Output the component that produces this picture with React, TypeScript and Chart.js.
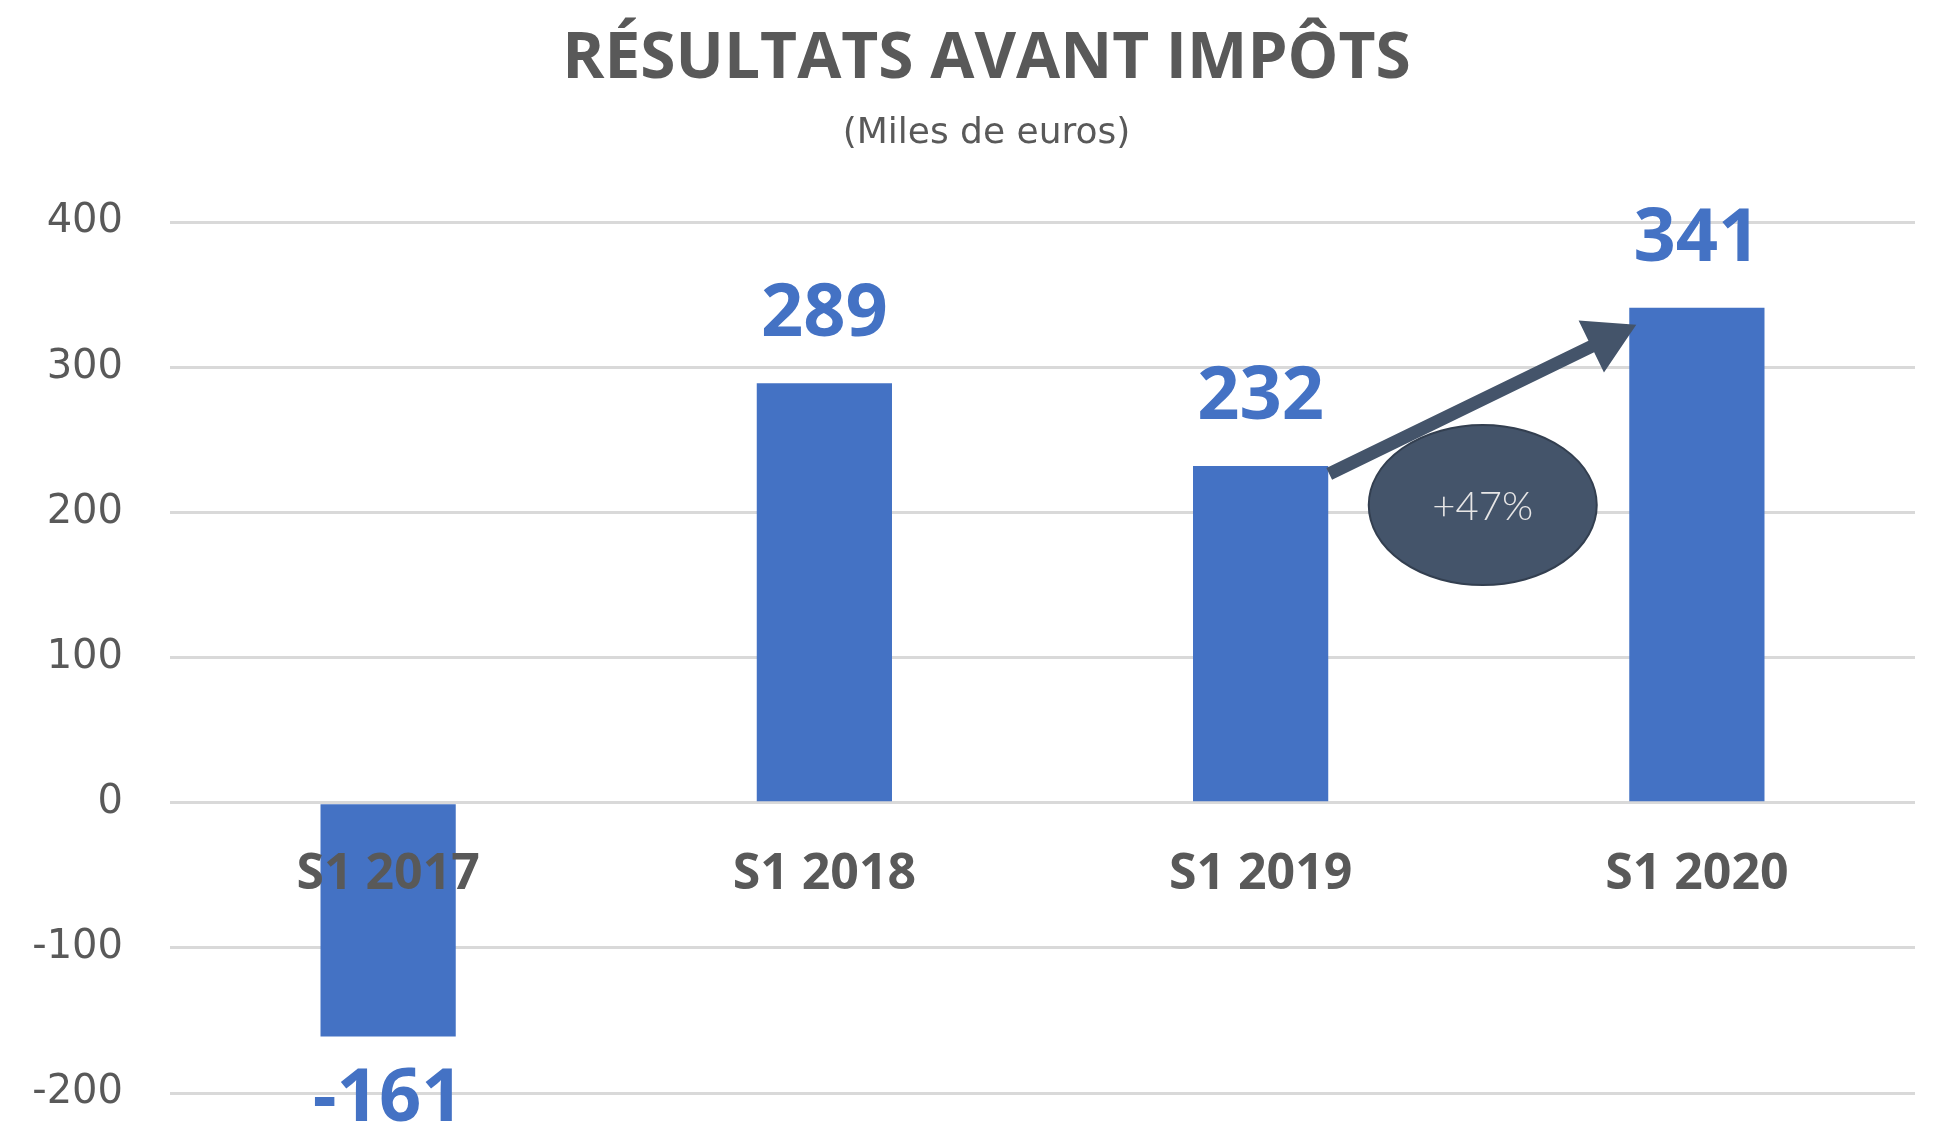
import React, { useEffect, useRef } from "react";
import { Chart, registerables } from "chart.js";

Chart.register(...registerables);

// ---- data ----
const TITLE = "RÉSULTATS AVANT IMPÔTS";
const SUBTITLE = "(Miles de euros)";
const CATEGORIES = ["S1 2017", "S1 2018", "S1 2019", "S1 2020"];
const VALUES = [-161, 289, 232, 341];
const Y_MIN = -200;
const Y_MAX = 400;
const Y_STEP = 100;
const GROWTH_LABEL = "+47%";
const GROWTH_FROM = 2;
const GROWTH_TO = 3;
const GROWTH_BUBBLE_LEVEL = 205;

// ---- styles ----
const BLUE = "#4472C4";
const DARK = "#44546A";
const GRAY_TEXT = "#595959";
const GRID = "#D9D9D9";

const header = {
  id: "header",
  afterDraw(chart: any) {
    const ctx = chart.ctx;
    const cx = chart.width / 2 + 18;
    ctx.save();
    ctx.fillStyle = GRAY_TEXT;
    ctx.textAlign = "center";
    ctx.textBaseline = "alphabetic";
    ctx.font = `bold 64px "Open Sans"`;
    ctx.fillText(TITLE, cx, 78);
    ctx.font = `36px "DejaVu Sans"`;
    ctx.fillText(SUBTITLE, cx, 143);
    ctx.restore();
  },
};

const valueLabels = {
  id: "valueLabels",
  afterDatasetsDraw(chart: any) {
    const ctx = chart.ctx;
    const meta = chart.getDatasetMeta(0);
    const size = 74;
    ctx.save();
    ctx.font = `bold ${size}px "Open Sans"`;
    ctx.fillStyle = BLUE;
    ctx.textAlign = "center";
    ctx.textBaseline = "alphabetic";
    meta.data.forEach((bar: any, i: number) => {
      const v = VALUES[i];
      const { x, y } = bar.getProps(["x", "y"], true);
      if (v >= 0) ctx.fillText(String(v), x, y - 47);
      else ctx.fillText(String(v), x, y + 32 + 0.714 * size);
    });
    ctx.restore();
  },
};

const growthAnnotation = {
  id: "growthAnnotation",
  afterDatasetsDraw(chart: any) {
    const ctx = chart.ctx;
    const meta = chart.getDatasetMeta(0);
    const a = meta.data[GROWTH_FROM];
    const b = meta.data[GROWTH_TO];
    const pa = a.getProps(["x", "y", "width"], true);
    const pb = b.getProps(["x", "y", "width"], true);
    const sx = pa.x + pa.width / 2 + 1;
    const sy = pa.y + 8;
    const ex = pb.x - pb.width / 2 + 7;
    const ey = pb.y + 17;
    const ang = Math.atan2(ey - sy, ex - sx);
    const L = Math.hypot(ex - sx, ey - sy);
    const headLen = 50;
    const headW = 58;
    const shaftW = 13;
    ctx.save();
    ctx.translate(sx, sy);
    ctx.rotate(ang);
    ctx.fillStyle = DARK;
    ctx.beginPath();
    ctx.moveTo(0, -shaftW / 2);
    ctx.lineTo(L - headLen, -shaftW / 2);
    ctx.lineTo(L - headLen, -headW / 2);
    ctx.lineTo(L, 0);
    ctx.lineTo(L - headLen, headW / 2);
    ctx.lineTo(L - headLen, shaftW / 2);
    ctx.lineTo(0, shaftW / 2);
    ctx.closePath();
    ctx.fill();
    ctx.restore();

    const cx = (pa.x + pb.x) / 2 + 4;
    const cy = chart.scales.y.getPixelForValue(GROWTH_BUBBLE_LEVEL);
    ctx.save();
    ctx.beginPath();
    ctx.ellipse(cx, cy, 114, 80, 0, 0, Math.PI * 2);
    ctx.fillStyle = DARK;
    ctx.fill();
    ctx.lineWidth = 2;
    ctx.strokeStyle = "#333F50";
    ctx.stroke();
    ctx.font = `300 40px Lato, "Open Sans", sans-serif`;
    ctx.fillStyle = "#E7E6E6";
    ctx.textAlign = "center";
    ctx.textBaseline = "middle";
    ctx.fillText(GROWTH_LABEL, cx, cy + 2);
    ctx.restore();
  },
};

export default function App() {
  const ref = useRef<HTMLCanvasElement | null>(null);

  useEffect(() => {
    document.body.style.margin = "0";
    document.body.style.overflow = "hidden";
    const canvas = ref.current;
    if (!canvas) return;
    const chart = new Chart(canvas, {
      type: "bar",
      data: {
        labels: CATEGORIES,
        datasets: [
          {
            data: VALUES,
            backgroundColor: BLUE,
            borderWidth: 0,
            barPercentage: 0.31,
            categoryPercentage: 1.0,
          },
        ],
      },
      options: {
        animation: false,
        responsive: true,
        maintainAspectRatio: false,
        layout: { padding: { top: 222, left: 0, right: 22, bottom: 36 } },
        plugins: {
          legend: { display: false },
          tooltip: { enabled: false },
          title: { display: false },
        },
        scales: {
          x: {
            position: { y: 0 } as any,
            grid: { display: false, drawTicks: false },
            border: { display: false },
            afterFit: (scale: any) => {
              scale.paddingTop = 0;
              scale.paddingBottom = 0;
            },
            ticks: {
              z: 1,
              color: GRAY_TEXT,
              font: { family: "Open Sans", weight: "bold", size: 50 },
              padding: 42,
              maxRotation: 0,
              autoSkip: false,
            } as any,
          },
          y: {
            min: Y_MIN,
            max: Y_MAX,
            afterFit: (scale: any) => {
              scale.width = 170;
              scale.paddingTop = 0;
              scale.paddingBottom = 0;
            },
            grid: { color: GRID, lineWidth: 3, drawTicks: false },
            border: { display: false },
            ticks: {
              stepSize: Y_STEP,
              color: GRAY_TEXT,
              font: { family: "DejaVu Sans", size: 40 },
              padding: 47,
            },
          },
        },
      },
      plugins: [header, valueLabels, growthAnnotation],
    });
    return () => chart.destroy();
  }, []);

  return (
    <div style={{ position: "relative", width: "1937px", height: "1129px" }}>
      <canvas ref={ref} />
    </div>
  );
}
